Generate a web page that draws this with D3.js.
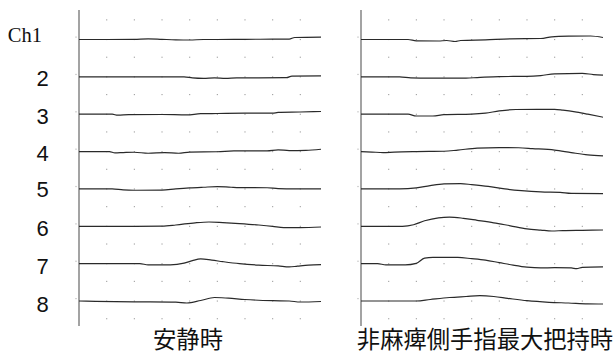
<!DOCTYPE html>
<html>
<head>
<meta charset="utf-8">
<script src="https://cdn.jsdelivr.net/npm/d3@7"></script>
<style>
  html, body { margin: 0; padding: 0; background: #fff; }
  svg { display: block; }
</style>
</head>
<body>
<svg id="chart" width="616" height="356"></svg>
<script>
// ---- data ----
const channels = ["Ch1", "2", "3", "4", "5", "6", "7", "8"];
const panelTitles = ["安静時", "非麻痺側手指最大把持時"];
const gridTimes = [1, 2, 3, 4, 5, 6, 7, 8];

// each trace: [time, deviation] pairs (deviation positive = upward)
const restTraces = [
  [[0,0],[1,0],[2,0.2],[2.5,0.7],[3,0.2],[3.5,-0.3],[4,-0.5],[4.5,0],[5,0],[6,0.2],[7,0.3],[7.6,0.4],[7.8,2],[8.75,2.3]],
  [[0,0],[3.8,0],[4.1,-1],[4.5,-1.5],[4.9,-1],[5.3,-1.5],[5.7,-1],[6.5,-1],[7.5,-0.8],[7.7,0.8],[8.75,1]],
  [[0,0],[1.2,0],[1.4,-1],[1.8,-0.5],[3,-0.3],[3.9,-0.7],[4.4,0.5],[5,0.7],[6,1],[7,1],[7.2,1.8],[8,2.2],[8.75,2.7]],
  [[0,0],[1.1,0],[1.3,-1.3],[1.6,-1],[2,-0.7],[2.5,-1.7],[3.1,-1],[3.6,-1.7],[4,-0.5],[5,-0.2],[5.6,0.7],[6.8,0.7],[7.2,1.7],[7.6,1],[8.2,1.2],[8.75,2.3]],
  [[0,0],[1.2,0],[1.6,-1],[2,-1.3],[3,-1.2],[3.5,0],[4,1],[4.5,1.7],[5,2.3],[5.5,1.7],[6,1.3],[6.8,1.2],[7.2,0.3],[7.8,0],[8.75,0]],
  [[0,0],[2,0],[3,0.2],[3.5,1.3],[4.2,3.5],[4.7,4.3],[5.2,3.7],[5.8,2.7],[6.5,1.3],[7,0],[7.4,-1.3],[8,-1.3],[8.75,-0.7]],
  [[0,0],[2.2,0],[2.5,-1.2],[3.3,-1.2],[3.8,0.5],[4.1,3],[4.4,4.7],[4.8,3.5],[5.2,2],[5.8,0],[6.5,-1.5],[7.2,-2.3],[7.6,-3.3],[7.9,-2.5],[8.3,-1.5],[8.75,-1]],
  [[0,0],[0.6,-0.3],[2,-0.8],[3.5,-1.2],[3.9,-2],[4.4,0.5],[4.9,3.5],[5.4,2.8],[6,1.5],[7,0.3],[7.6,0],[8,-1],[8.75,-0.5]]
];

const gripTraces = [
  [[0,0],[1.7,0],[2,-1.3],[2.8,-1.5],[3.1,-1],[3.4,-2],[3.6,-1],[4.5,-0.3],[5.4,0.7],[6.5,1],[6.9,2.7],[7.5,3.3],[8.3,3.5],[8.75,2]],
  [[0,0],[1.4,0],[1.8,-1],[2.5,-1.3],[3.8,-1.2],[4.2,-0.7],[5,0.3],[6,0.5],[6.5,1.3],[7,3],[8,3.5],[8.4,2.3],[8.75,1.7]],
  [[0,0],[1.7,0],[2,-1.8],[2.6,-1.8],[3,-0.5],[4,0],[4.5,1],[5,3.3],[5.6,4.7],[7,4.8],[7.3,4],[7.8,2],[8.2,0],[8.75,-3]],
  [[0,0],[0.4,-0.5],[0.8,-1],[1.2,-0.5],[2,0],[3,0.3],[3.5,1.5],[4.2,3.5],[5,4],[5.7,3.8],[6.2,3],[7,1.5],[7.6,-1],[8.2,-3.3],[8.75,-4.3]],
  [[0,0],[1.4,0],[2,1],[2.5,3.3],[3,5],[3.6,5.3],[4,4.3],[4.6,2.5],[5.2,0],[5.8,-1.7],[6.5,-3],[7.2,-3.5],[7.6,-4.5],[8.75,-4.7]],
  [[0,0],[1.5,0],[1.9,1.5],[2.3,5.5],[2.8,8.5],[3.2,9.2],[3.7,8],[4.2,6],[4.8,3.5],[5.4,0.5],[6,-2.5],[6.5,-3.8],[6.9,-4.7],[7.3,-4.3],[8,-4],[8.75,-3.7]],
  [[0,0],[0.6,0],[0.9,-1.2],[1.6,-1.2],[2,0.3],[2.3,5.5],[2.6,6.3],[3.5,6.2],[4,5],[4.5,3.5],[5,1],[5.5,-1.5],[6,-3.5],[6.5,-4.3],[7,-4],[7.6,-4.3],[7.8,-5],[8,-3.7],[8.75,-3.3]],
  [[0,0],[1,0],[2,0],[2.5,1.5],[3.2,3.5],[3.8,4.5],[4.3,5.3],[4.8,4.5],[5.3,2.7],[6,0.3],[6.8,-1.3],[7.5,-2],[8.2,-2.8],[8.75,-3]]
];

const panels = [
  { title: panelTitles[0], traces: restTraces, x0: 79, x1: 321, titleX: 188 },
  { title: panelTitles[1], traces: gripTraces, x0: 361, x1: 603, titleX: 485 }
];

// ---- layout ----
const svg = d3.select("#chart");
const tMax = 8.75;
const chScale = d3.scalePoint().domain(channels).range([39.5, 301]);
const step = chScale.step();
const amp = d3.scaleLinear().domain([-10, 10]).range([10, -10]);

// channel labels
const labelDy = { "Ch1": 2.5, "2": 9, "3": 9.5, "4": 9.5, "5": 8.5, "6": 9.5, "7": 10, "8": 10.5 };
channels.forEach(ch => {
  const isCh1 = ch === "Ch1";
  svg.append("text")
    .attr("x", isCh1 ? 42 : 42.5)
    .attr("y", chScale(ch) + labelDy[ch])
    .attr("text-anchor", isCh1 ? "end" : "middle")
    .attr("font-family", isCh1 ? "'Liberation Serif', 'DejaVu Serif', serif" : "'Liberation Sans', Arial, sans-serif")
    .attr("font-size", isCh1 ? 20.5 : 22)
    .attr("fill", "#111")
    .text(ch);
});

panels.forEach(p => {
  const x = d3.scaleLinear().domain([0, tMax]).range([p.x0, p.x1]);
  const g = svg.append("g");

  // dotted grid
  const rowYs = [];
  channels.forEach(ch => {
    rowYs.push(chScale(ch) - step / 2 - 1);
    rowYs.push(chScale(ch));
  });
  rowYs.push(chScale(channels[channels.length - 1]) + step / 2 - 1);
  rowYs.forEach(yy => {
    g.selectAll(null).data(gridTimes).enter().append("rect")
      .attr("x", d => x(d) - 0.5)
      .attr("y", yy - 0.5)
      .attr("width", 1.1)
      .attr("height", 1.1)
      .attr("fill", "#999");
  });

  // vertical axis line
  g.append("line")
    .attr("x1", x(0)).attr("x2", x(0))
    .attr("y1", 10).attr("y2", 326)
    .attr("stroke", "#666").attr("stroke-width", 1.2);

  // tiny ticks left of axis
  g.selectAll(null).data(channels).enter().append("rect")
    .attr("x", x(0) - 3.5)
    .attr("y", d => chScale(d) - 3)
    .attr("width", 1).attr("height", 1.2)
    .attr("fill", "#aaa");

  // traces
  p.traces.forEach((tr, i) => {
    const ch = channels[i];
    const line = d3.line()
      .x(d => x(d[0]))
      .y(d => chScale(ch) + amp(d[1]))
      .curve(d3.curveMonotoneX);
    g.append("path")
      .attr("d", line(tr))
      .attr("fill", "none")
      .attr("stroke", "#2a2a2a")
      .attr("stroke-width", 1.2);
  });

  // panel title
  svg.append("text")
    .attr("x", p.titleX)
    .attr("y", 348)
    .attr("text-anchor", "middle")
    .attr("font-family", "'Noto Sans CJK JP', 'Noto Sans CJK SC', sans-serif")
    .attr("font-size", 23.3)
    .attr("fill", "#111")
    .text(p.title);
});
</script>
</body>
</html>
